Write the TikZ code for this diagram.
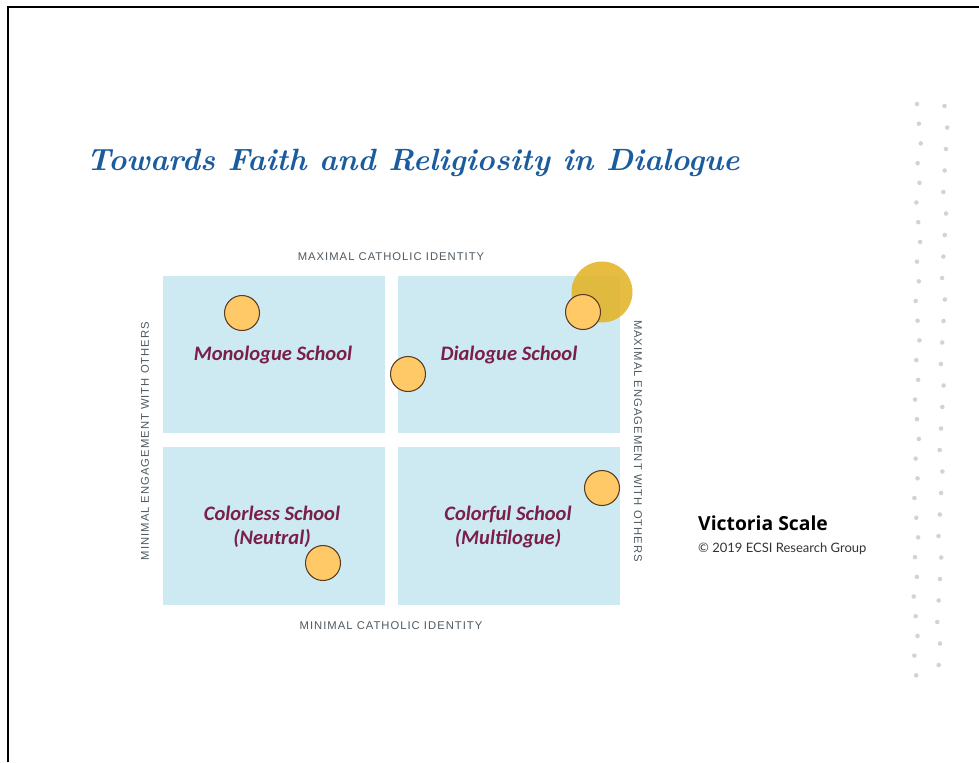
\documentclass[tikz,border=0pt]{standalone}
\usepackage{fontspec}
\newfontfamily\schoolfont{Carlito}
\newfontfamily\axisfont[LetterSpace=9]{Liberation Sans}
\newfontfamily\sidefont[LetterSpace=9]{Liberation Sans}
\newfontfamily\namefont{Lato}
\newfontfamily\scalefont{Open Sans}
\definecolor{quadblue}{HTML}{CDEAF3}
\definecolor{schoolred}{HTML}{7A1E4A}
\definecolor{titleblue}{HTML}{1B5C9E}
\definecolor{axisgray}{HTML}{4E5961}
\definecolor{spotfill}{HTML}{FFC967}
\definecolor{spotline}{HTML}{5B3B22}
\definecolor{sungold}{HTML}{E3B52C}
\definecolor{dotgray}{HTML}{D3D3D3}
\begin{document}
\begin{tikzpicture}[x=0.02cm, y=-0.02cm,
    quad/.style={fill=quadblue},
    school/.style={font=\schoolfont\bfseries\itshape\fontsize{11.7}{13.5}\selectfont, text=schoolred, align=center},
    axis/.style={font=\axisfont\fontsize{6.4}{7.5}\selectfont, text=axisgray},
    side/.style={font=\sidefont\fontsize{6.4}{7.5}\selectfont, text=axisgray},
    spot/.style={circle, fill=spotfill, draw=spotline, line width=0.6pt, minimum size=0.7cm, inner sep=0pt}]
    \useasboundingbox (0,0) rectangle (979,762);
    \draw [line width=1pt] (8,762) -- (8,7) -- (979,7);
    % title
    \node [font=\bfseries\itshape\fontsize{17.5}{21}\selectfont, text=titleblue] (title) at (413,163) {Towards Faith and Religiosity in Dialogue};
    % four quadrants
    \fill [quad] (163,276) rectangle (385,433);
    \fill [quad] (398,276) rectangle (620,433);
    \fill [quad] (163,447) rectangle (385,605);
    \fill [quad] (398,447) rectangle (620,605);
    \node [school] (mono) at (273,355) {Monologue School};
    \node [school] (dia) at (509,355) {Dialogue School};
    \node [school] (colorless) at (272,527) {Colorless School\\(Neutral)};
    \node [school] (colorful) at (508,527) {Colorful School\\(Multilogue)};
    % axes
    \node [axis] (maxid) at (391,257) {MAXIMAL CATHOLIC IDENTITY};
    \node [axis] (minid) at (391,626) {MINIMAL CATHOLIC IDENTITY};
    \node [side, rotate=90] (mineng) at (145,441) {MINIMAL ENGAGEMENT WITH OTHERS};
    \node [side, rotate=-90] (maxeng) at (638,441) {MAXIMAL ENGAGEMENT WITH OTHERS};
    % schools on the scale
    \node [circle, fill=sungold, opacity=0.9, minimum size=1.22cm, inner sep=0pt] (sun) at (602,292) {};
    \node [spot] (s1) at (242,313) {};
    \node [spot] (s2) at (408,374) {};
    \node [spot] (s3) at (583,312) {};
    \node [spot] (s4) at (602,488) {};
    \node [spot] (s5) at (323,563) {};
    % credits
    \node [anchor=west, font=\scalefont\bfseries\fontsize{11}{13}\selectfont] (scale) at (692,523) {Victoria Scale};
    \node [anchor=west, font=\namefont\fontsize{7.4}{9}\selectfont, text=black!80] (group) at (692,549) {\textcopyright\ 2019 ECSI Research Group};
    % dotted border on the right
    \foreach \i in {0,...,29}
        \fill [dotgray] ({919-0.13*\i+mod(\i*7,5)-2},{104+19.7*\i}) circle (1.3pt);
    \foreach \i in {0,...,26}
        \fill [dotgray] ({946-0.3*\i+mod(\i*3,4)-1.5},{106+21.5*\i}) circle (1.3pt);
\end{tikzpicture}
\end{document}
